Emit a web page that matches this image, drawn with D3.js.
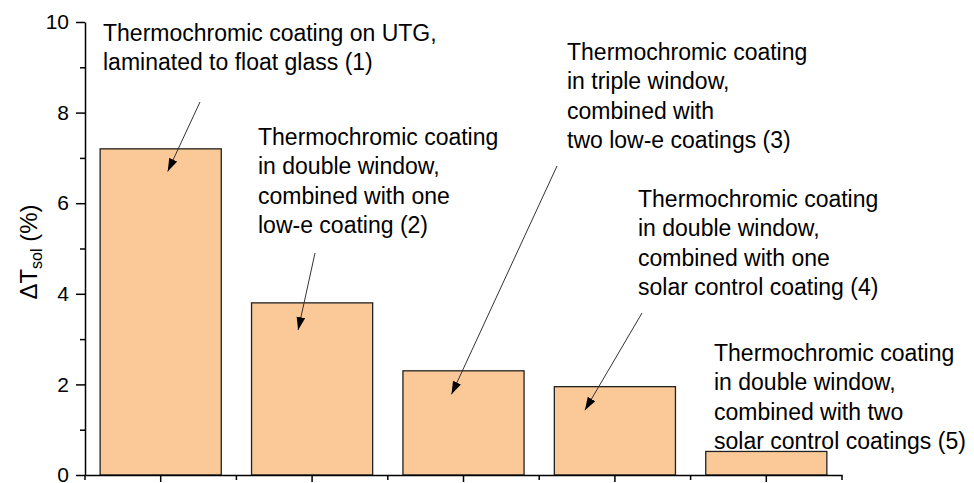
<!DOCTYPE html>
<meta charset="utf-8">
<style>
    body { margin: 0; background: #fff; font-family: Arial, 'Liberation Sans', sans-serif; }
    #graph { width: 974px; height: 483px; }
    .note { font-size: 23px; fill: #000; }
</style>
<script src="https://d3js.org/d3.v7.min.js"></script>
<div id="graph"></div>
<script>
    // data
    const categories = ["1", "2", "3", "4", "5"];
    const deltaTsol = [7.2, 3.8, 2.3, 1.95, 0.52];
    const yTicks = [0, 2, 4, 6, 8, 10];
    const yMinorTicks = [1, 3, 5, 7, 9];
    const noteLines = [
        ["Thermochromic coating on UTG,", "laminated to float glass (1)"],
        ["Thermochromic coating", "in double window,", "combined with one", "low-e coating (2)"],
        ["Thermochromic coating", "in triple window,", "combined with", "two low-e coatings (3)"],
        ["Thermochromic coating", "in double window,", "combined with one", "solar control coating (4)"],
        ["Thermochromic coating", "in double window,", "combined with two", "solar control coatings (5)"]
    ];
    // where each note sits, and where its arrow points (tip in data terms)
    const noteLayout = [
        {x: 103, y: 41, arrow: {x0: 200, y0: 102, dx: 7, v: 6.7}},
        {x: 258, y: 145, arrow: {x0: 315, y0: 253, dx: -14, v: 3.2}},
        {x: 567, y: 60, arrow: {x0: 557, y0: 166, dx: -12, v: 1.78}},
        {x: 638, y: 207, arrow: {x0: 642, y0: 313, dx: -30, v: 1.43}},
        {x: 714, y: 361, arrow: null}
    ];

    const width = 974, height = 483;
    const margin = {top: 22, right: 132, bottom: 8, left: 85};

    const svg = d3.select("#graph").append("svg")
        .attr("width", width)
        .attr("height", height);

    const x = d3.scaleBand()
        .domain(categories)
        .range([margin.left, width - margin.right])
        .paddingInner(0.2)
        .paddingOuter(0.1);

    // outer band edges for the minor ticks on x
    const xEdge = d3.scaleBand()
        .domain(categories)
        .range([margin.left, width - margin.right]);

    const y = d3.scaleLinear()
        .domain([0, 10])
        .range([height - margin.bottom, margin.top]);

    // bars
    svg.append("g")
        .selectAll("rect")
        .data(deltaTsol)
        .enter().append("rect")
        .attr("x", (d, i) => x(categories[i]))
        .attr("width", x.bandwidth())
        .attr("y", d => y(d))
        .attr("height", d => y(0) - y(d))
        .attr("fill", "#fbc997")
        .attr("stroke", "#222")
        .attr("stroke-width", 1.3);

    // y axis
    const axisY = svg.append("g")
        .attr("transform", `translate(${margin.left},0)`)
        .call(d3.axisLeft(y).tickValues(yTicks).tickSize(9).tickPadding(7).tickSizeOuter(0));
    axisY.attr("font-family", "Arial, 'Liberation Sans', sans-serif").attr("font-size", 21);
    axisY.selectAll("text").attr("fill", "#000");
    axisY.select(".domain").attr("stroke-width", 1.5);
    axisY.selectAll(".tick line").attr("stroke-width", 1.5);
    svg.append("g")
        .attr("transform", `translate(${margin.left},0)`)
        .call(d3.axisLeft(y).tickValues(yMinorTicks).tickSize(5).tickFormat(""))
        .call(g => g.select(".domain").remove())
        .selectAll(".tick line").attr("stroke-width", 1.5);

    // x axis
    const axisX = svg.append("g")
        .attr("transform", `translate(0,${y(0)})`)
        .call(d3.axisBottom(x).tickSize(7).tickFormat("").tickSizeOuter(0));
    axisX.select(".domain").attr("stroke-width", 1.5);
    axisX.selectAll(".tick line").attr("stroke-width", 1.5);
    const edges = categories.map(c => xEdge(c)).concat([xEdge(categories[categories.length - 1]) + xEdge.bandwidth()]);
    svg.append("g")
        .selectAll("line")
        .data(edges)
        .enter().append("line")
        .attr("x1", d => d).attr("x2", d => d)
        .attr("y1", y(0)).attr("y2", y(0) + 5)
        .attr("stroke", "#000")
        .attr("stroke-width", 1.5);

    // y label
    const yLabel = svg.append("text")
        .attr("transform", "translate(37,252) rotate(-90)")
        .attr("text-anchor", "middle")
        .style("font-size", "24px");
    yLabel.append("tspan").text("\u0394T");
    yLabel.append("tspan").style("font-size", "16px").attr("dy", 5).text("sol");
    yLabel.append("tspan").attr("dy", -5).text(" (%)");

    // arrow head
    svg.append("defs").append("marker")
        .attr("id", "head")
        .attr("markerUnits", "userSpaceOnUse")
        .attr("viewBox", "0 0 12 8")
        .attr("refX", 12).attr("refY", 4)
        .attr("markerWidth", 13).attr("markerHeight", 9)
        .attr("orient", "auto")
        .append("path")
        .attr("d", "M0,0L12,4L0,8z")
        .attr("fill", "#000");

    // notes
    noteLines.forEach((lines, i) => {
        const lay = noteLayout[i];
        const t = svg.append("text").attr("class", "note");
        lines.forEach((s, j) => {
            t.append("tspan").attr("x", lay.x).attr("y", lay.y + j * 29.3).text(s);
        });
        if (lay.arrow) {
            const a = lay.arrow;
            svg.append("line")
                .attr("x1", a.x0).attr("y1", a.y0)
                .attr("x2", x(categories[i]) + x.bandwidth() / 2 + a.dx)
                .attr("y2", y(a.v))
                .attr("stroke", "#333")
                .attr("stroke-width", 1)
                .attr("marker-end", "url(#head)");
        }
    });
</script>
